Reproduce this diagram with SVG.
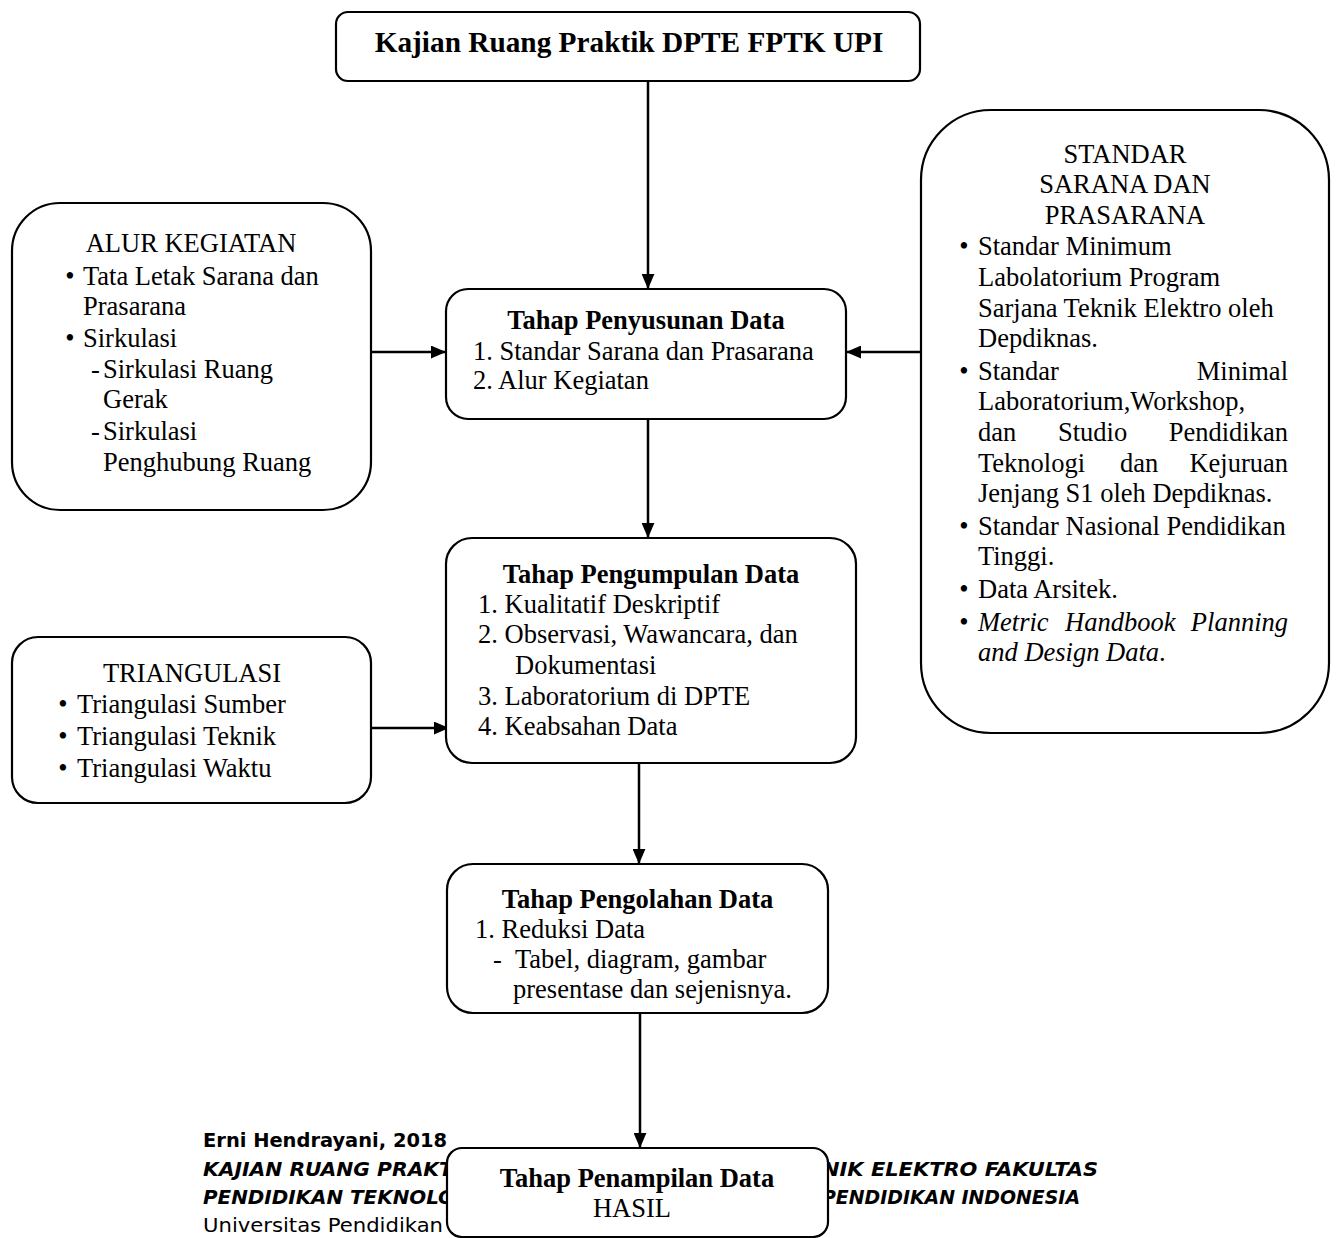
<svg xmlns="http://www.w3.org/2000/svg" width="1336" height="1238" viewBox="0 0 1336 1238">
<defs>
<style>
.box{fill:#fff;stroke:#000;stroke-width:2.2}
.t{font-family:"Liberation Serif","Times New Roman",serif;font-size:26.5px;fill:#000}
.b{font-weight:bold}
.c{text-anchor:middle}
.e{text-anchor:end}
.i{font-style:italic}
.f{font-family:"DejaVu Sans Condensed","DejaVu Sans",sans-serif;font-size:20px;fill:#000}
.conn{stroke:#000;stroke-width:2.5;fill:none;marker-end:url(#arr)}
</style>
<marker id="arr" viewBox="0 0 14 12" refX="14" refY="6" markerWidth="15" markerHeight="13" markerUnits="userSpaceOnUse" orient="auto">
<path d="M0,0 L14,6 L0,12 z" fill="#000"/>
</marker>
</defs>
<rect width="1336" height="1238" fill="#fff"/>

<g id="footer">
<text class="f b" x="203" y="1147" textLength="244" lengthAdjust="spacingAndGlyphs">Erni Hendrayani, 2018</text>
<text class="f b i" x="203" y="1176" textLength="250" lengthAdjust="spacingAndGlyphs">KAJIAN RUANG PRAKT</text>
<text class="f b i" x="203" y="1204" textLength="252" lengthAdjust="spacingAndGlyphs">PENDIDIKAN TEKNOLO</text>
<text class="f" x="203" y="1232" textLength="240" lengthAdjust="spacingAndGlyphs">Universitas Pendidikan</text>
<text class="f b i" x="822" y="1176" textLength="276" lengthAdjust="spacingAndGlyphs">NIK ELEKTRO FAKULTAS</text>
<text class="f b i" x="822" y="1204" textLength="258" lengthAdjust="spacingAndGlyphs">PENDIDIKAN INDONESIA</text>
</g>

<g id="connectors">
<path class="conn" d="M648,81 V289"/>
<path class="conn" d="M371,352 H446"/>
<path class="conn" d="M921,352 H846"/>
<path class="conn" d="M648,419 V538"/>
<path class="conn" d="M371,728 H449"/>
<path class="conn" d="M639,763 V864"/>
<path class="conn" d="M640,1013 V1148"/>
</g>

<g id="kajian">
<rect class="box" x="336" y="12" width="584" height="69" rx="12"/>
<text class="t b c" x="629" y="52" style="font-size:29.3px">Kajian Ruang Praktik DPTE FPTK UPI</text>
</g>

<g id="alur">
<rect class="box" x="12" y="203" width="359" height="307" rx="48"/>
<text class="t c" x="191" y="252">ALUR KEGIATAN</text>
<text class="t c" x="70" y="285">•</text>
<text class="t" x="83" y="285">Tata Letak Sarana dan</text>
<text class="t" x="83" y="315">Prasarana</text>
<text class="t c" x="70" y="347">•</text>
<text class="t" x="83" y="347">Sirkulasi</text>
<text class="t" x="91" y="378">-</text>
<text class="t" x="103" y="378">Sirkulasi Ruang</text>
<text class="t" x="103" y="408">Gerak</text>
<text class="t" x="91" y="440">-</text>
<text class="t" x="103" y="440">Sirkulasi</text>
<text class="t" x="103" y="471">Penghubung Ruang</text>
</g>

<g id="penyusunan">
<rect class="box" x="446" y="289" width="400" height="130" rx="22"/>
<text class="t b c" x="646" y="329">Tahap Penyusunan Data</text>
<text class="t" x="473" y="360">1. Standar Sarana dan Prasarana</text>
<text class="t" x="473" y="389">2. Alur Kegiatan</text>
</g>

<g id="standar">
<rect class="box" x="921" y="110" width="408" height="623" rx="70"/>
<text class="t c" x="1125" y="163">STANDAR</text>
<text class="t c" x="1125" y="193">SARANA DAN</text>
<text class="t c" x="1125" y="224">PRASARANA</text>
<text class="t c" x="964" y="255">•</text>
<text class="t" x="978" y="255">Standar Minimum</text>
<text class="t" x="978" y="286">Labolatorium Program</text>
<text class="t" x="978" y="317">Sarjana Teknik Elektro oleh</text>
<text class="t" x="978" y="347">Depdiknas.</text>
<text class="t c" x="964" y="380">•</text>
<text class="t" x="978" y="380">Standar</text>
<text class="t e" x="1288" y="380">Minimal</text>
<text class="t" x="978" y="410">Laboratorium,Workshop,</text>
<text class="t" x="978" y="441">dan</text>
<text class="t" x="1058" y="441">Studio</text>
<text class="t e" x="1288" y="441">Pendidikan</text>
<text class="t" x="978" y="472">Teknologi</text>
<text class="t" x="1120" y="472">dan</text>
<text class="t e" x="1288" y="472">Kejuruan</text>
<text class="t" x="978" y="502">Jenjang S1 oleh Depdiknas.</text>
<text class="t c" x="964" y="535">•</text>
<text class="t" x="978" y="535">Standar Nasional Pendidikan</text>
<text class="t" x="978" y="565">Tinggi.</text>
<text class="t c" x="964" y="598">•</text>
<text class="t" x="978" y="598">Data Arsitek.</text>
<text class="t c" x="964" y="631">•</text>
<text class="t i" x="978" y="631">Metric</text>
<text class="t i" x="1065" y="631">Handbook</text>
<text class="t i e" x="1288" y="631">Planning</text>
<text class="t" x="978" y="661"><tspan class="i">and Design Data</tspan>.</text>
</g>

<g id="pengumpulan">
<rect class="box" x="446" y="538" width="410" height="225" rx="26"/>
<text class="t b c" x="651" y="583">Tahap Pengumpulan Data</text>
<text class="t" x="478" y="613">1. Kualitatif Deskriptif</text>
<text class="t" x="478" y="643">2. Observasi, Wawancara, dan</text>
<text class="t" x="515" y="674">Dokumentasi</text>
<text class="t" x="478" y="705">3. Laboratorium di DPTE</text>
<text class="t" x="478" y="735">4. Keabsahan Data</text>
</g>

<g id="triangulasi">
<rect class="box" x="12" y="637" width="359" height="166" rx="26"/>
<text class="t c" x="192" y="682">TRIANGULASI</text>
<text class="t c" x="63" y="713">•</text>
<text class="t" x="77" y="713">Triangulasi Sumber</text>
<text class="t c" x="63" y="745">•</text>
<text class="t" x="77" y="745">Triangulasi Teknik</text>
<text class="t c" x="63" y="777">•</text>
<text class="t" x="77" y="777">Triangulasi Waktu</text>
</g>

<g id="pengolahan">
<rect class="box" x="447" y="864" width="381" height="149" rx="26"/>
<text class="t b c" x="637.5" y="908">Tahap Pengolahan Data</text>
<text class="t" x="475" y="938">1. Reduksi Data</text>
<text class="t" x="493" y="968">-</text>
<text class="t" x="515" y="968">Tabel, diagram, gambar</text>
<text class="t" x="513" y="998">presentase dan sejenisnya.</text>
</g>

<g id="penampilan">
<rect class="box" x="447" y="1148" width="381" height="89" rx="15"/>
<text class="t b c" x="637" y="1187">Tahap Penampilan Data</text>
<text class="t c" x="632" y="1217">HASIL</text>
</g>
</svg>
